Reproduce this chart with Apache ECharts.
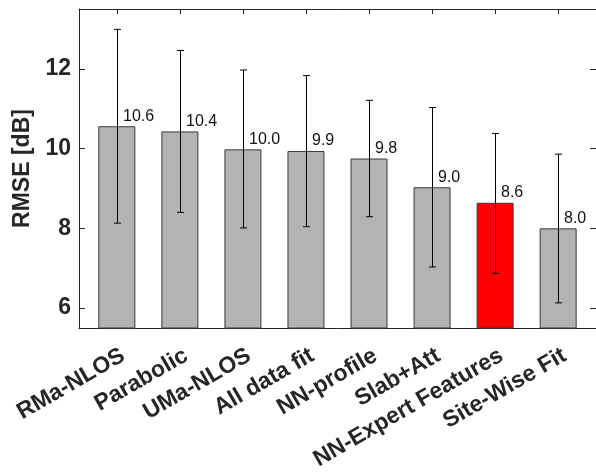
<!DOCTYPE html>
<html><head><meta charset="utf-8">
<script src="https://cdn.jsdelivr.net/npm/echarts@6/dist/echarts.min.js"></script>
<style>html,body{margin:0;padding:0;background:#fff}#c{width:596px;height:473px}</style>
</head><body><div id="c"></div>
<script>
const categories = ['RMa-NLOS','Parabolic','UMa-NLOS','All data fit','NN-profile','Slab+Att','NN-Expert Features','Site-Wise Fit'];
const rmse = [10.56, 10.43, 9.98, 9.94, 9.75, 9.03, 8.64, 8.00];
const errLow = [8.13, 8.40, 8.01, 8.04, 8.29, 7.03, 6.87, 6.13];
const errHigh = [12.99, 12.46, 11.97, 11.83, 11.21, 11.03, 10.38, 9.86];
const highlight = 'NN-Expert Features';
const yTicks = [6, 8, 10, 12];
const xPos = categories.map((c, i) => i + 1);
const labelPos = xPos.map(v => v + 0.1);

const axisCol = '#262626';
const font = 'Liberation Sans, Arial, sans-serif';
const chart = echarts.init(document.getElementById('c'));

const barData = categories.map((c, i) => ({
  value: [xPos[i], rmse[i]],
  itemStyle: { color: c === highlight ? '#ff0000' : '#b3b3b3' }
}));
const errData = categories.map((c, i) => [xPos[i], errLow[i], errHigh[i], rmse[i]]);

chart.setOption({
  animation: false,
  grid: { left: 79, right: -3, top: 9, bottom: 145, containLabel: false },
  xAxis: [{
    type: 'value', min: 0.4, max: 8.6, position: 'bottom',
    axisLine: { show: true, onZero: false, lineStyle: { color: axisCol, width: 1 } },
    axisTick: { show: true, inside: true, length: 5, customValues: xPos, lineStyle: { color: axisCol } },
    axisLabel: {
      show: true, customValues: labelPos, rotate: 30, margin: 26,
      formatter: v => categories[Math.round(v) - 1] || '',
      fontFamily: font, fontWeight: 'bold', fontSize: 23, color: axisCol
    },
    splitLine: { show: false }
  }, {
    type: 'value', min: 0.4, max: 8.6, position: 'top',
    axisLine: { show: true, onZero: false, lineStyle: { color: axisCol, width: 1 } },
    axisTick: { show: true, inside: true, length: 5, customValues: xPos, lineStyle: { color: axisCol } },
    axisLabel: { show: false },
    splitLine: { show: false }
  }],
  yAxis: [{
    type: 'value', min: 5.5, max: 13.5, position: 'left',
    name: 'RMSE [dB]', nameLocation: 'middle', nameGap: 37, nameRotate: 90,
    nameTextStyle: { fontFamily: font, fontWeight: 'bold', fontSize: 23, color: axisCol },
    axisLine: { show: true, onZero: false, lineStyle: { color: axisCol, width: 1 } },
    axisTick: { show: true, inside: true, length: 6, customValues: yTicks, lineStyle: { color: axisCol } },
    axisLabel: { show: true, customValues: yTicks, margin: 8, fontFamily: font, fontWeight: 'bold', fontSize: 23, color: axisCol },
    splitLine: { show: false }
  }, {
    type: 'value', min: 5.5, max: 13.5, position: 'right',
    axisLine: { show: true, onZero: false, lineStyle: { color: axisCol, width: 1 } },
    axisTick: { show: true, inside: true, length: 6, customValues: yTicks, lineStyle: { color: axisCol } },
    axisLabel: { show: false },
    splitLine: { show: false }
  }],
  series: [{
    type: 'bar', xAxisIndex: 0, yAxisIndex: 0, barWidth: 37,
    data: barData,
    itemStyle: { borderColor: '#3a3a3a', borderWidth: 1 },
    z: 2
  }, {
    type: 'custom', xAxisIndex: 0, yAxisIndex: 0,
    data: errData,
    renderItem: function (params, api) {
      const x = api.value(0);
      const lo = api.coord([x, api.value(1)]);
      const hi = api.coord([x, api.value(2)]);
      const top = api.coord([x, api.value(3)]);
      const cx = Math.round(lo[0]) + 0.5;
      const cap = 3.5;
      const ls = { stroke: '#000', lineWidth: 1 };
      return { type: 'group', children: [
        { type: 'line', shape: { x1: cx, y1: lo[1], x2: cx, y2: hi[1] }, style: ls },
        { type: 'line', shape: { x1: cx - cap, y1: lo[1], x2: cx + cap, y2: lo[1] }, style: ls },
        { type: 'line', shape: { x1: cx - cap, y1: hi[1], x2: cx + cap, y2: hi[1] }, style: ls },
        { type: 'text', style: { text: api.value(3).toFixed(1), x: cx + 5.5, y: top[1] - 2,
          textAlign: 'left', textVerticalAlign: 'bottom', fill: '#111', font: '16px ' + font } }
      ]};
    },
    z: 3
  }]
});
</script></body></html>
